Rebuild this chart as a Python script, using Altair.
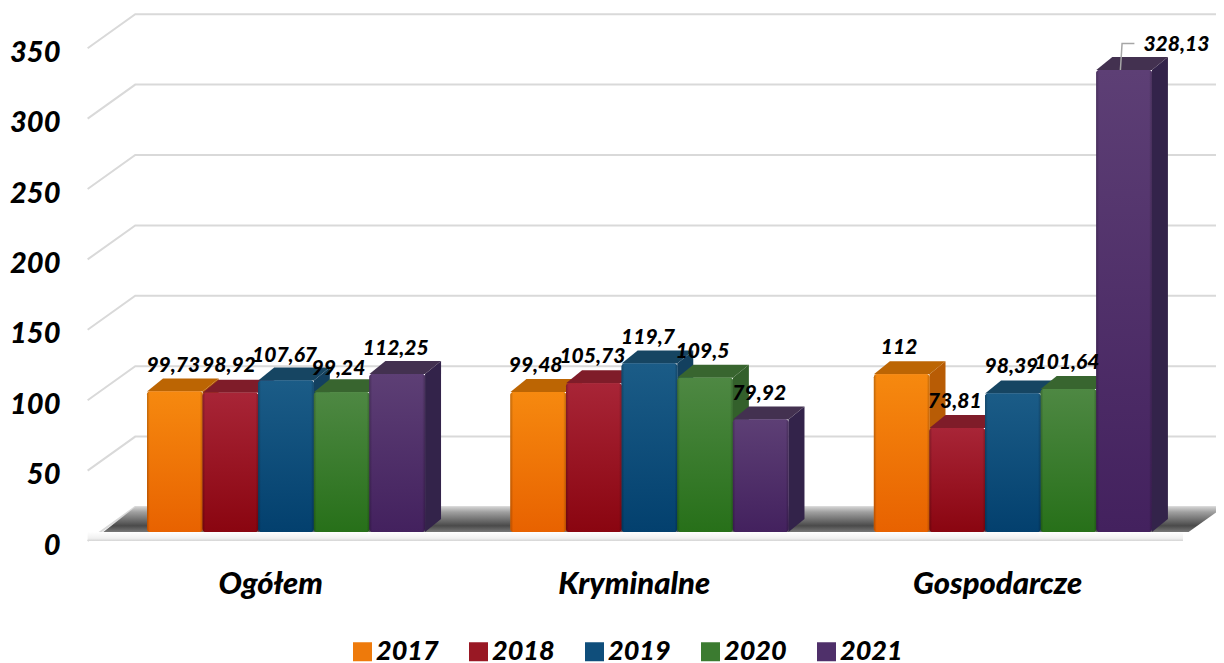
import altair as alt
import pandas as pd

FONT = "Lato"
categories = ["Ogółem", "Kryminalne", "Gospodarcze"]
years = ["2017", "2018", "2019", "2020", "2021"]
values = [
    [99.73, 98.92, 107.67, 99.24, 112.25],
    [99.48, 105.73, 119.7, 109.5, 79.92],
    [112, 73.81, 98.39, 101.64, 328.13],
]
value_labels = [
    ["99,73", "98,92", "107,67", "99,24", "112,25"],
    ["99,48", "105,73", "119,7", "109,5", "79,92"],
    ["112", "73,81", "98,39", "101,64", "328,13"],
]
# height of each value label above the base, in axis units
label_heights = [
    [118, 118, 125, 116, 130],
    [118, 124, 138, 128, 98],
    [131, 92, 117, 120, 346],
]
label_shift = [
    [-0.03, -0.03, -0.03, -0.06, -0.03],
    [-0.05, -0.03, -0.03, -0.05, -0.03],
    [-0.05, -0.05, -0.03, -0.03, 0.93],
]
front_top = ["#F6890F", "#A82537", "#1B5C87", "#4E8843", "#5D3F75"]
front_bottom = ["#E86200", "#8A0510", "#03406E", "#277019", "#43215E"]
side_colors = ["#B85C05", "#751A26", "#13405F", "#33602B", "#33234A"]
top_colors = ["#BC6503", "#7F1C29", "#164562", "#38652F", "#433150"]
legend_colors = ["#EE7A0B", "#991824", "#0F4E7B", "#3B7B30", "#4F306A"]
ticks = [0, 50, 100, 150, 200, 250, 300, 350]

bar_w = 0.993
group_step = 6.49
depth_x = 16 / 56
units = 1.408
depth_y = 13 / units
x_min, x_max = -139 / 56, 1069 / 56
y_min, y_max = -131 / units, 524 / units
floor_left, floor_right = -0.78, 18.6
back_left, back_right = -0.21, 19.23
axis_left = -1.06
front_drop = -9 / units
wall_lift = 25 / units

xs = alt.Scale(domain=[x_min, x_max], nice=False, zero=False)
ys = alt.Scale(domain=[y_min, y_max], nice=False, zero=False)
y_axis = alt.Axis(
    values=ticks, orient="left", title=None, grid=False, domain=False, ticks=False,
    labelFont=FONT, labelFontSize=29, labelFontStyle="italic", labelFontWeight=900,
    labelColor="black", labelPadding=0, labelOffset=13, offset=-52,
    labelBound=False, labelFlush=False, labelOverlap=False)
X = alt.X("x:Q", scale=xs, axis=None)
Y = alt.Y("y:Q", scale=ys, axis=y_axis)
Y2 = alt.Y2("y0:Q")

# walls: gridlines
grid_rows = []
for t in ticks:
    grid_rows += [
        {"t": t, "x": axis_left, "y": t + front_drop},
        {"t": t, "x": back_left, "y": t + wall_lift},
        {"t": t, "x": back_right, "y": t + wall_lift},
    ]
grid = alt.Chart(pd.DataFrame(grid_rows)).mark_line(color="#D9D9D9", strokeWidth=2).encode(
    x=X, y=Y, detail="t:N",
)

floor = alt.Chart(pd.DataFrame([
    {"x": floor_left, "y": 0, "y0": 0},
    {"x": back_left, "y": wall_lift, "y0": 0},
    {"x": floor_right, "y": wall_lift, "y0": 0},
    {"x": back_right, "y": wall_lift, "y0": wall_lift},
])).mark_area(color=alt.Gradient(
    gradient="linear", x1=0, x2=0, y1=0, y2=1,
    stops=[alt.GradientStop(offset=0, color="#D0D0D0"),
           alt.GradientStop(offset=0.2, color="#A0A0A0"),
           alt.GradientStop(offset=0.75, color="#4A4A4A"),
           alt.GradientStop(offset=1, color="#777777")])).encode(x=X, y=Y, y2=Y2)

slab = alt.Chart(pd.DataFrame([
    {"x": axis_left, "y": 0, "y0": front_drop},
    {"x": floor_right - 0.1, "y": 0, "y0": front_drop},
])).mark_area(color=alt.Gradient(
    gradient="linear", x1=0, x2=0, y1=0, y2=1,
    stops=[alt.GradientStop(offset=0, color="#FFFFFF"),
           alt.GradientStop(offset=0.7, color="#F0F0F0"),
           alt.GradientStop(offset=1, color="#D4D4D4")])).encode(x=X, y=Y, y2=Y2)

# bars: one row per front face, polygons for side and top
bars, faces, texts = [], [], []
for g, cat in enumerate(categories):
    for s, yr in enumerate(years):
        v = values[g][s]
        L = g * group_step + s * bar_w
        R = L + bar_w
        bars.append({"x": L, "x2": R, "y": v, "y0": 0, "year": yr})
        key = f"{g}-{s}"
        for x, y, y0 in [(R, v, 0), (R + depth_x, v + depth_y, depth_y)]:
            faces.append({"k": key + "s", "x": x, "y": y, "y0": y0, "c": side_colors[s]})
        for x, y, y0 in [(L, v, v), (L + depth_x, v + depth_y, v), (R, v + depth_y, v),
                         (R + depth_x, v + depth_y, v + depth_y)]:
            faces.append({"k": key + "t", "x": x, "y": y, "y0": y0, "c": top_colors[s]})
        texts.append({"x": L + 0.5 + label_shift[g][s], "y": label_heights[g][s],
                      "t": value_labels[g][s]})
bars = pd.DataFrame(bars)

face_layer = alt.Chart(pd.DataFrame(faces)).mark_area().encode(
    x=X, y=Y, y2=Y2, detail="k:N", fill=alt.Fill("c:N", scale=None, legend=None))

X_bar = alt.X("x:Q", scale=xs, axis=None)
base = alt.Chart(bars).mark_bar(cornerRadius=3).encode(
    x=X_bar, x2="x2:Q", y=Y, y2=Y2,
    color=alt.Color("year:N", scale=alt.Scale(domain=years, range=legend_colors),
                    legend=alt.Legend(
                        title=None, orient="none", legendX=341, legendY=630, direction="horizontal",
                        columns=5, columnPadding=26, padding=0, symbolType="square",
                        symbolSize=361, symbolStrokeWidth=0, symbolOpacity=1, labelOffset=0,
                        labelFont=FONT, labelFontSize=27, labelFontStyle="italic",
                        labelFontWeight=900, labelColor="black", labelLimit=200)),
)

fronts = []
for s, yr in enumerate(years):
    fronts.append(alt.Chart(bars[bars.year == yr]).mark_bar(cornerRadius=3, color=alt.Gradient(
        gradient="linear", x1=0, x2=0, y1=0, y2=1,
        stops=[alt.GradientStop(offset=0, color=front_top[s]),
               alt.GradientStop(offset=1, color=front_bottom[s])])).encode(
        x=X_bar, x2="x2:Q", y=Y, y2=Y2))

bevel = alt.Chart(bars).mark_bar(cornerRadius=3, color=alt.Gradient(
    gradient="linear", x1=0, x2=1, y1=0, y2=0,
    stops=[alt.GradientStop(offset=0, color="rgba(0,0,0,0.22)"),
           alt.GradientStop(offset=0.05, color="rgba(0,0,0,0)"),
           alt.GradientStop(offset=0.95, color="rgba(0,0,0,0)"),
           alt.GradientStop(offset=1, color="rgba(0,0,0,0.22)")])).encode(
    x=X_bar, x2="x2:Q", y=Y, y2=Y2)

leader_x = [4 * bar_w + 2 * group_step + 0.43, 4 * bar_w + 2 * group_step + 0.46, 4 * bar_w + 2 * group_step + 0.68]
leader_y = [328.13, 347, 347]
leader = alt.Chart(pd.DataFrame({"x": leader_x, "y": leader_y, "o": [0, 1, 2]})).mark_line(
    color="#A6A6A6", strokeWidth=1.5).encode(x=X, y=Y, order="o:Q")

value_text = alt.Chart(pd.DataFrame(texts)).mark_text(
    font=FONT, fontSize=21, fontStyle="italic", fontWeight=900, color="black",
    align="center", baseline="middle").encode(x=X, y=Y, text="t:N")

cat_text = alt.Chart(pd.DataFrame({
    "x": [g * group_step + 2.21 for g in range(3)],
    "y": [-37.6] * 3, "t": categories})).mark_text(
    font=FONT, fontSize=31, fontStyle="italic", fontWeight=900, color="black",
    align="center", baseline="middle").encode(x=X, y=Y, text="t:N")

chart = alt.layer(grid, floor, slab, face_layer, base, *fronts, bevel, leader, value_text, cat_text).properties(
    width=1208, height=655, padding=0, autosize=alt.AutoSizeParams(type="none"),
).configure_view(stroke=None).configure_axis(grid=False)

chart.save("out.html", embed_options={"renderer": "svg", "actions": False})
